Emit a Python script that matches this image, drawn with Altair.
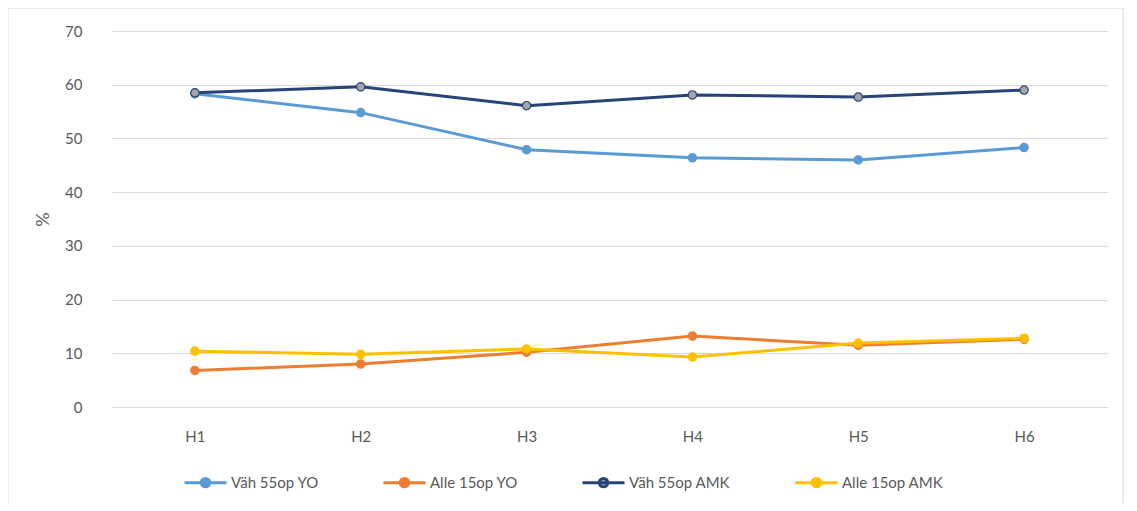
import altair as alt
import pandas as pd

categories = ["H1", "H2", "H3", "H4", "H5", "H6"]
series_names = ["Väh 55op YO", "Alle 15op YO", "Väh 55op AMK", "Alle 15op AMK"]
vah_yo = [58.3, 54.8, 47.9, 46.4, 46.0, 48.3]
alle_yo = [6.8, 8.0, 10.2, 13.2, 11.5, 12.6]
vah_amk = [58.5, 59.6, 56.1, 58.1, 57.7, 59.0]
alle_amk = [10.4, 9.8, 10.8, 9.3, 11.9, 12.8]
colors = ["#5B9BD5", "#ED7D31", "#264478", "#FFC000"]
marker_fill = ["#5B9BD5", "#ED7D31", "#A5A5A5", "#FFC000"]

rows = []
for name, vals in zip(series_names, [vah_yo, alle_yo, vah_amk, alle_amk]):
    for c, v in zip(categories, vals):
        rows.append({"cat": c, "series": name, "value": v})
df = pd.DataFrame(rows)

FONT = "Lato"
GRAY = "#595959"

x = alt.X("cat:N", sort=categories, title=None,
          scale=alt.Scale(paddingInner=0, paddingOuter=0.5),
          axis=alt.Axis(labelAngle=0, ticks=False, domain=False, grid=False, labelPadding=22,
                        labelFontSize=15, labelColor=GRAY, labelFont=FONT))
y = alt.Y("value:Q", title="%",
          scale=alt.Scale(domain=[0, 70]),
          axis=alt.Axis(values=list(range(0, 71, 10)), ticks=False, domain=False,
                        labelPadding=30, labelFontSize=15, labelColor=GRAY, labelFont=FONT,
                        titleFontSize=18, titleColor=GRAY, titleFont=FONT, titleFontWeight="normal",
                        titlePadding=12, gridColor="#D9D9D9", gridWidth=1))

legend_path = "M-1,0H1M0.2,0A0.2,0.2,0,1,1,-0.2,0A0.2,0.2,0,1,1,0.2,0Z"

legend = alt.Legend(title=None, orient="none", direction="horizontal",
                    columns=4, legendX=71, legendY=429,
                    symbolType=legend_path, symbolSize=1764,
                    symbolStrokeWidth=3,
                    labelFontSize=15, labelColor=GRAY, labelFont=FONT,
                    columnPadding=58, labelOffset=3)

stroke_enc = alt.Stroke("series:N", sort=series_names,
                        scale=alt.Scale(domain=series_names, range=colors), legend=legend)
fill_enc = alt.Fill("series:N", sort=series_names,
                    scale=alt.Scale(domain=series_names, range=marker_fill), legend=legend)

lines = alt.Chart(df).mark_line(strokeWidth=3).encode(x=x, y=y, stroke=stroke_enc)
points = alt.Chart(df).mark_point(filled=True, size=70, strokeWidth=1.2, opacity=1).encode(
    x=x, y=y, fill=fill_enc, stroke=stroke_enc,
)

border = alt.Chart(pd.DataFrame({"a": [0]})).mark_rect(
    fill=None, stroke="#D9D9D9", strokeWidth=1, clip=False
).encode(x=alt.value(-104), x2=alt.value(1011), y=alt.value(-23), y2=alt.value(530))

chart = alt.layer(border, lines, points).properties(
    width=995, height=376,
    background="white",
    autosize=alt.AutoSizeParams(type="none"),
    padding={"left": 104, "top": 23, "right": 17, "bottom": 96},
).configure_view(stroke=None, strokeWidth=0)

chart.save("out.html", embed_options={"renderer": "svg", "actions": False})
